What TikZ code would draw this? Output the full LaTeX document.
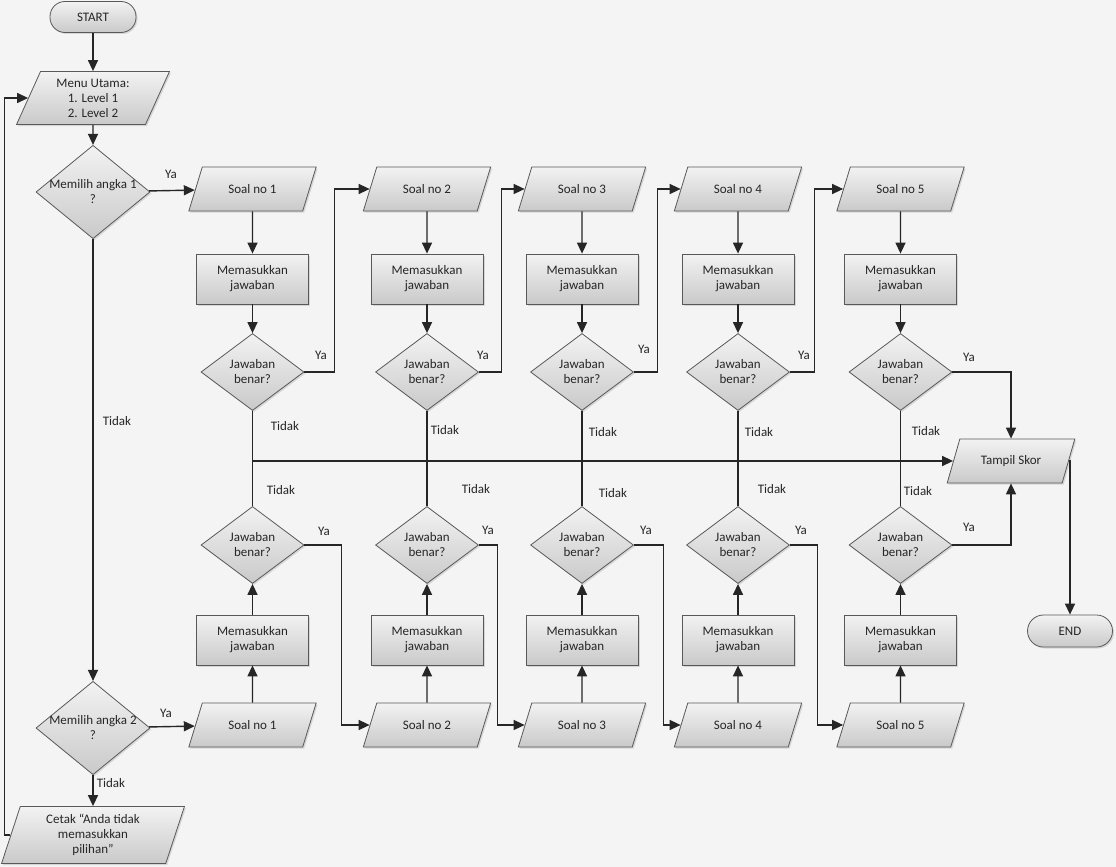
\documentclass[tikz,border=0pt]{standalone}
\usepackage{fontspec}
\setmainfont{Carlito}
\usetikzlibrary{positioning, arrows.meta, shapes.geometric, shadows}

\begin{document}
\begin{tikzpicture}[x=1pt, y=-1pt,
  font=\fontsize{13}{15}\selectfont,
  base/.style={draw=black!65, line width=0.8pt, top color=gray!10, bottom color=gray!42,
    text=black!85, align=center,
    drop shadow={shadow xshift=1.5pt, shadow yshift=-1.5pt, opacity=0.25}},
  terminal/.style={base, rectangle, rounded corners=15pt, minimum width=86pt, minimum height=31pt},
  io/.style={base, trapezium, trapezium left angle=65, trapezium right angle=115,
    trapezium stretches=true, minimum width=128pt, minimum height=44pt},
  proc/.style={base, rectangle, minimum width=112pt, minimum height=50pt},
  decision/.style={base, diamond, inner sep=0pt, minimum width=103pt, minimum height=77pt},
  line/.style={draw=black!85, line width=1.4pt},
  arrow/.style={line, -{Triangle[length=11pt,width=10pt]}},
  lbl/.style={text=black!85, inner sep=1pt}]

  \fill[gray!9] (0,0) rectangle (1116,867);
  \useasboundingbox (0,0) rectangle (1116,867);

  % menu
  \node[terminal] (mulai) at (93,17) {START};
  \node[io, minimum width=153pt, minimum height=53pt, trapezium left angle=68,
    trapezium right angle=112] (menu) at (93,98) {Menu Utama:\\1. Level 1\\2. Level 2};
  \node[decision, minimum width=114pt, minimum height=84pt, inner xsep=-9pt] (pilih1) at (93,192) {Memilih angka 1\\?};
  \node[decision, minimum width=114pt, minimum height=84pt, inner xsep=-9pt] (pilih2) at (93,728) {Memilih angka 2\\?};
  \node[io, minimum width=183pt, minimum height=57pt, trapezium left angle=75,
    trapezium right angle=105] (cetak) at (93,835) {Cetak “Anda tidak\\memasukkan\\pilihan”};

  % level 1
  \node[io] (soal1a) at (252.5,189) {Soal no 1};
  \node[io] (soal2a) at (427,189) {Soal no 2};
  \node[io] (soal3a) at (582,189) {Soal no 3};
  \node[io] (soal4a) at (738,189) {Soal no 4};
  \node[io] (soal5a) at (900.5,189) {Soal no 5};
  \node[proc] (isi1a) at (252.5,279) {Memasukkan\\jawaban};
  \node[proc] (isi2a) at (427,279) {Memasukkan\\jawaban};
  \node[proc] (isi3a) at (582,279) {Memasukkan\\jawaban};
  \node[proc] (isi4a) at (738,279) {Memasukkan\\jawaban};
  \node[proc] (isi5a) at (900.5,279) {Memasukkan\\jawaban};
  \node[decision] (cek1a) at (252.5,372) {Jawaban\\benar?};
  \node[decision] (cek2a) at (427,372) {Jawaban\\benar?};
  \node[decision] (cek3a) at (582,372) {Jawaban\\benar?};
  \node[decision] (cek4a) at (738,372) {Jawaban\\benar?};
  \node[decision] (cek5a) at (900.5,372) {Jawaban\\benar?};

  % level 2
  \node[decision] (cek1b) at (252.5,545) {Jawaban\\benar?};
  \node[decision] (cek2b) at (427,545) {Jawaban\\benar?};
  \node[decision] (cek3b) at (582,545) {Jawaban\\benar?};
  \node[decision] (cek4b) at (738,545) {Jawaban\\benar?};
  \node[decision] (cek5b) at (900.5,545) {Jawaban\\benar?};
  \node[proc] (isi1b) at (252.5,640) {Memasukkan\\jawaban};
  \node[proc] (isi2b) at (427,640) {Memasukkan\\jawaban};
  \node[proc] (isi3b) at (582,640) {Memasukkan\\jawaban};
  \node[proc] (isi4b) at (738,640) {Memasukkan\\jawaban};
  \node[proc] (isi5b) at (900.5,640) {Memasukkan\\jawaban};
  \node[io] (soal1b) at (252.5,725) {Soal no 1};
  \node[io] (soal2b) at (427,725) {Soal no 2};
  \node[io] (soal3b) at (582,725) {Soal no 3};
  \node[io] (soal4b) at (738,725) {Soal no 4};
  \node[io] (soal5b) at (900.5,725) {Soal no 5};

  \node[io] (skor) at (1011,461) {Tampil Skor};
  \node[terminal, minimum width=85pt, minimum height=32pt, rounded corners=16pt] (selesai) at (1070,631) {END};

  % alur menu
  \draw[arrow] (mulai) -- (menu);
  \draw[arrow] (menu) -- (pilih1);
  \draw[arrow] (pilih1) -- (soal1a) node[lbl] at (171,174) {Ya};
  \draw[arrow] (pilih1) -- (pilih2) node[lbl] at (117,421) {Tidak};
  \draw[arrow] (pilih2) -- (soal1b) node[lbl] at (166,713) {Ya};
  \draw[arrow] (pilih2) -- (cetak) node[lbl] at (111,783) {Tidak};
  \draw[arrow] (cetak.west) -- ++(-6,0) |- (menu.west);

  % level 1
  \draw[arrow] (soal1a) -- (isi1a);
  \draw[arrow] (isi1a) -- (cek1a);
  \draw[arrow] (soal2a) -- (isi2a);
  \draw[arrow] (isi2a) -- (cek2a);
  \draw[arrow] (soal3a) -- (isi3a);
  \draw[arrow] (isi3a) -- (cek3a);
  \draw[arrow] (soal4a) -- (isi4a);
  \draw[arrow] (isi4a) -- (cek4a);
  \draw[arrow] (soal5a) -- (isi5a);
  \draw[arrow] (isi5a) -- (cek5a);
  \draw[arrow] (cek1a.east) -- ++(30,0) |- (soal2a.west) node[lbl] at (321,355) {Ya};
  \draw[arrow] (cek2a.east) -- ++(22.5,0) |- (soal3a.west) node[lbl] at (483,355) {Ya};
  \draw[arrow] (cek3a.east) -- ++(23.5,0) |- (soal4a.west) node[lbl] at (644,349) {Ya};
  \draw[arrow] (cek4a.east) -- ++(24.5,0) |- (soal5a.west) node[lbl] at (804,355) {Ya};
  \draw[arrow] (cek5a.east) -| (skor.north) node[lbl] at (969,357) {Ya};

  % level 2
  \draw[arrow] (soal1b) -- (isi1b);
  \draw[arrow] (isi1b) -- (cek1b);
  \draw[arrow] (soal2b) -- (isi2b);
  \draw[arrow] (isi2b) -- (cek2b);
  \draw[arrow] (soal3b) -- (isi3b);
  \draw[arrow] (isi3b) -- (cek3b);
  \draw[arrow] (soal4b) -- (isi4b);
  \draw[arrow] (isi4b) -- (cek4b);
  \draw[arrow] (soal5b) -- (isi5b);
  \draw[arrow] (isi5b) -- (cek5b);
  \draw[arrow] (cek1b.east) -- ++(37,0) |- (soal2b.west) node[lbl] at (324,531) {Ya};
  \draw[arrow] (cek2b.east) -- ++(18.5,0) |- (soal3b.west) node[lbl] at (488,530) {Ya};
  \draw[arrow] (cek3b.east) -- ++(29.5,0) |- (soal4b.west) node[lbl] at (646,530) {Ya};
  \draw[arrow] (cek4b.east) -- ++(27.5,0) |- (soal5b.west) node[lbl] at (801,530) {Ya};
  \draw[arrow] (cek5b.east) -| (skor.south) node[lbl] at (969,527) {Ya};

  % tidak
  \draw[line] (cek1a) -- (cek1b) node[lbl] at (285,426) {Tidak} node[lbl] at (281,490) {Tidak};
  \draw[line] (cek2a) -- (cek2b) node[lbl] at (445,430) {Tidak} node[lbl] at (476,489) {Tidak};
  \draw[line] (cek3a) -- (cek3b) node[lbl] at (603,432) {Tidak} node[lbl] at (613,493) {Tidak};
  \draw[line] (cek4a) -- (cek4b) node[lbl] at (759,432) {Tidak} node[lbl] at (772,489) {Tidak};
  \draw[line] (cek5a) -- (cek5b) node[lbl] at (926,431) {Tidak} node[lbl] at (918,491) {Tidak};
  \draw[arrow] (cek1a.south |- skor.west) -- (skor.west);
  \draw[arrow] (skor.east) -| (selesai.north);
\end{tikzpicture}
\end{document}
